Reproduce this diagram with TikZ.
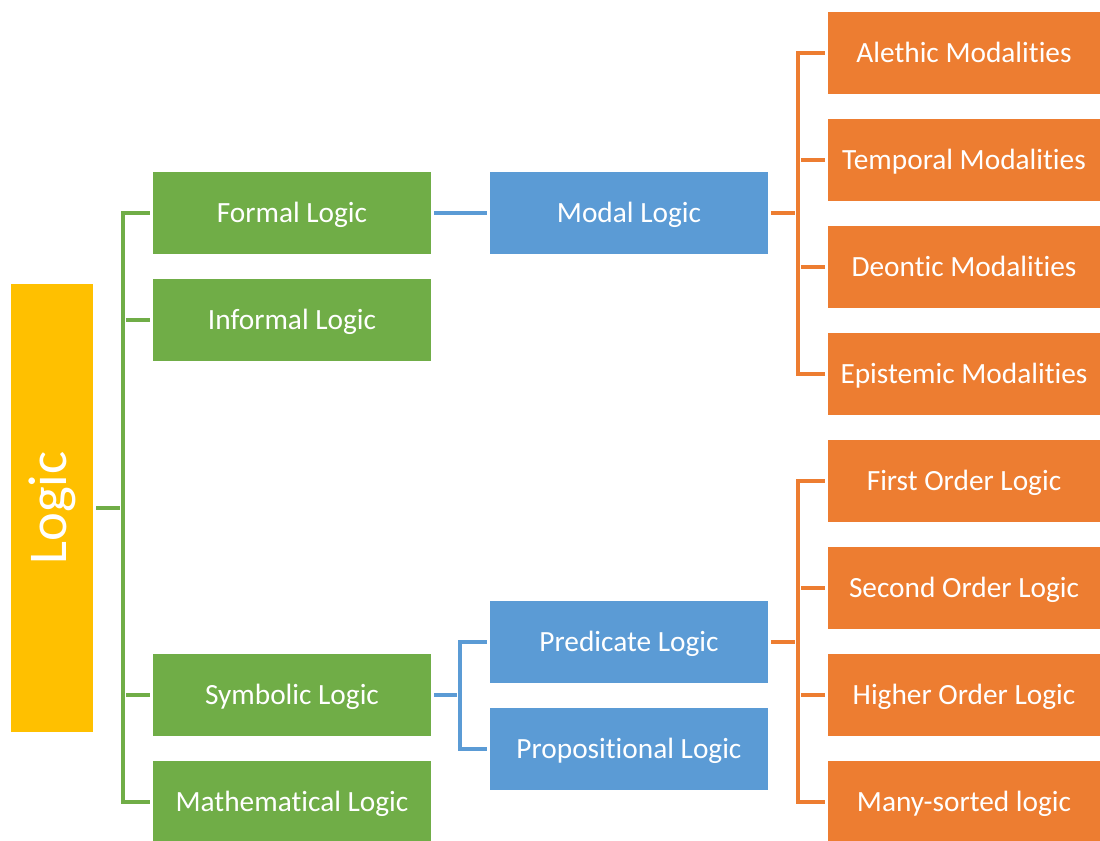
\documentclass[tikz,border=0pt]{standalone}
\usepackage{fontspec}
\setmainfont[Ligatures=NoCommon]{Carlito}
\definecolor{cgold}{HTML}{FFC000}
\definecolor{cgreen}{HTML}{70AD47}
\definecolor{cblue}{HTML}{5B9BD5}
\definecolor{corange}{HTML}{ED7D31}
\begin{document}
\begin{tikzpicture}[x=0.75pt,y=-0.75pt,
  box/.style={rectangle,inner sep=0pt,text=white,font=\fontsize{22}{26}\selectfont,
    text height=14pt,text depth=0.5pt},
  rootbox/.style={rectangle,inner sep=0pt,text=white,fill=cgold,minimum width=61.5pt,minimum height=336pt},
  gbox/.style={box,fill=cgreen,minimum width=208.5pt,minimum height=61.5pt},
  bbox/.style={box,fill=cblue,minimum width=208.5pt,minimum height=61.5pt},
  obox/.style={box,fill=corange,minimum width=204pt,minimum height=61.5pt},
  link/.style={line width=2.4pt,line join=miter,shorten <=2.2pt,shorten >=2.2pt},
  glink/.style={link,draw=cgreen},
  blink/.style={link,draw=cblue},
  olink/.style={link,draw=corange}]
\useasboundingbox (0,0) rectangle (1100,840);

% root
\node[rootbox] (logic) at (52,508) {\rotatebox{90}{\fontsize{41}{48}\selectfont Logic}};

% first level
\node[gbox] (formal)   at (292,213) {Formal Logic};
\node[gbox] (informal) at (292,320) {Informal Logic};
\node[gbox] (symbolic) at (292,695) {Symbolic Logic};
\node[gbox] (math)     at (292,802) {Mathematical Logic};

% second level
\node[bbox] (modal) at (629,213) {Modal Logic};
\node[bbox] (pred)  at (629,642) {Predicate Logic};
\node[bbox] (prop)  at (629,749) {Propositional Logic};

% third level
\node[obox] (alethic)   at (964,53)  {Alethic Modalities};
\node[obox] (temporal)  at (964,160) {Temporal Modalities};
\node[obox] (deontic)   at (964,267) {Deontic Modalities};
\node[obox] (epistemic) at (964,374) {Epistemic Modalities};
\node[obox] (first)     at (964,481) {First Order Logic};
\node[obox] (second)    at (964,588) {Second Order Logic};
\node[obox] (higher)    at (964,695) {Higher Order Logic};
\node[obox] (many)      at (964,802) {Many-sorted logic};

% trunk positions
\coordinate (gt) at (123,0);
\coordinate (bt) at (460,0);
\coordinate (ot) at (798,0);

% root to first level
\draw[glink] (logic.east) -- (logic.east -| gt);
\draw[glink] (formal.west) -- (formal.west -| gt) -- (math.west -| gt) -- (math.west);
\draw[glink] (informal.west -| gt) -- (informal.west);
\draw[glink] (symbolic.west -| gt) -- (symbolic.west);

% first to second level
\draw[blink] (formal.east) -- (modal.west);
\draw[blink] (symbolic.east) -- (symbolic.east -| bt);
\draw[blink] (pred.west) -- (pred.west -| bt) -- (prop.west -| bt) -- (prop.west);

% modal logic branches
\draw[olink] (modal.east) -- (modal.east -| ot);
\draw[olink] (alethic.west) -- (alethic.west -| ot) -- (epistemic.west -| ot) -- (epistemic.west);
\draw[olink] (temporal.west -| ot) -- (temporal.west);
\draw[olink] (deontic.west -| ot) -- (deontic.west);

% predicate logic branches
\draw[olink] (pred.east) -- (pred.east -| ot);
\draw[olink] (first.west) -- (first.west -| ot) -- (many.west -| ot) -- (many.west);
\draw[olink] (second.west -| ot) -- (second.west);
\draw[olink] (higher.west -| ot) -- (higher.west);
\end{tikzpicture}
\end{document}
